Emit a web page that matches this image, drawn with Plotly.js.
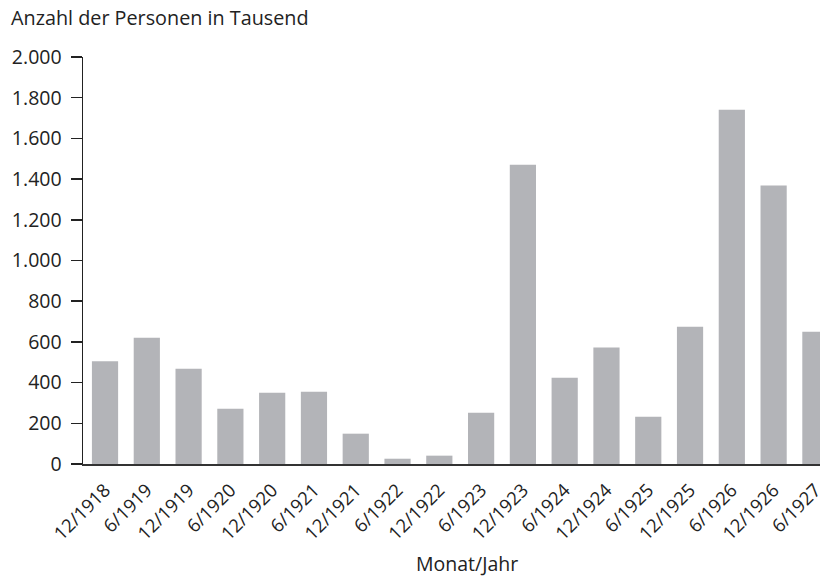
<!DOCTYPE html>
<html>
<head>
<meta charset="utf-8">
<script src="https://cdn.plot.ly/plotly-3.0.1.min.js"></script>
<style>html,body{margin:0;padding:0;background:#fff;}#chart{width:820px;height:576px;}</style>
</head>
<body>
<div id="chart"></div>
<script>
const categories = ["12/1918","6/1919","12/1919","6/1920","12/1920","6/1921","12/1921","6/1922","12/1922","6/1923","12/1923","6/1924","12/1924","6/1925","12/1925","6/1926","12/1926","6/1927"];
const personen = [505, 621, 468, 272, 350, 355, 149, 26, 41, 252, 1471, 424, 572, 232, 675, 1741, 1368, 650];
const yTicks = [0, 200, 400, 600, 800, 1000, 1200, 1400, 1600, 1800, 2000];

const FONT = "'Open Sans', 'Noto Sans', sans-serif";
const data = [{
  type: 'bar',
  x: categories,
  y: personen,
  marker: {color: '#b3b4b8', line: {width: 0}},
  width: 0.627,
  hoverinfo: 'x+y'
}];
const layout = {
  width: 820, height: 576,
  margin: {l: 83, r: 0, t: 57, b: 112, pad: 0},
  paper_bgcolor: '#fff', plot_bgcolor: '#fff',
  separators: ',.',
  font: {family: FONT, size: 19, color: '#222'},
  showlegend: false,
  title: {text: 'Anzahl der Personen in Tausend', x: 11/820, xanchor: 'left', xref: 'container', y: 1 - 18/576, yanchor: 'middle', yref: 'container', font: {family: FONT, size: 19.8, color: '#222'}},
  xaxis: {
    type: 'category',
    range: [-0.527, 17.11],
    showgrid: false, zeroline: false,
    showline: true, linecolor: '#333', linewidth: 2,
    ticks: '', tickangle: -45,
    ticklabelstandoff: 6,
    tickfont: {family: FONT, size: 18.5, color: '#222'},
    fixedrange: true
  },
  yaxis: {
    range: [0, 2000],
    tickvals: yTicks,
    tickformat: ',d',
    showgrid: false, zeroline: false,
    showline: true, linecolor: '#222', linewidth: 1.5,
    ticks: 'outside', ticklen: 11, tickwidth: 1.5, tickcolor: '#222',
    ticklabelstandoff: 5,
    tickfont: {family: FONT, size: 19.5, color: '#222'},
    fixedrange: true
  },
  annotations: [{
    text: 'Monat/Jahr', xref: 'paper', yref: 'paper',
    x: (467-83)/737, y: -(563-464)/407, xanchor: 'center', yanchor: 'middle',
    borderpad: 0,
    showarrow: false, font: {family: FONT, size: 19.5, color: '#222'}
  }]
};
Plotly.newPlot('chart', data, layout, {displayModeBar: false, staticPlot: true});
</script>
</body>
</html>
